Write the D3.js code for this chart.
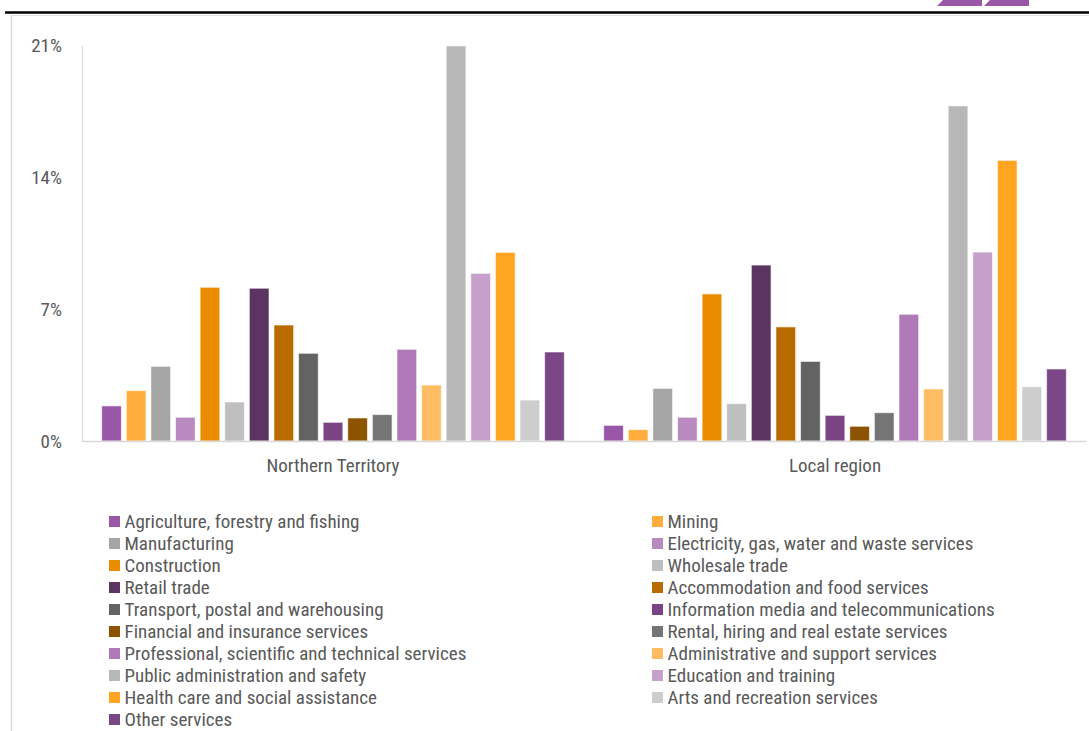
<!DOCTYPE html>
<html>
<head>
<meta charset="utf-8">
<script src="https://cdn.jsdelivr.net/npm/d3@7"></script>
<style>
  html, body { margin: 0; padding: 0; background: #fff; }
  svg text { font-family: "Roboto Condensed", "Arial Narrow", sans-serif; fill: #595959; }
</style>
</head>
<body>
<svg id="chart" width="1089" height="731"></svg>
<script>
var regions = ["Northern Territory", "Local region"];

var industries = [
    "Agriculture, forestry and fishing",
    "Mining",
    "Manufacturing",
    "Electricity, gas, water and waste services",
    "Construction",
    "Wholesale trade",
    "Retail trade",
    "Accommodation and food services",
    "Transport, postal and warehousing",
    "Information media and telecommunications",
    "Financial and insurance services",
    "Rental, hiring and real estate services",
    "Professional, scientific and technical services",
    "Administrative and support services",
    "Public administration and safety",
    "Education and training",
    "Health care and social assistance",
    "Arts and recreation services",
    "Other services"
];

var colours = [
    "#9b57a7", "#ffad3c", "#a5a5a5", "#b88ac0", "#ea8b00", "#bfbfbf",
    "#5c3461", "#ba6b00", "#636363", "#7a4484", "#8c5300", "#757575",
    "#af79b7", "#ffbd63", "#b7b7b7", "#c6a0cb", "#ffa521", "#cdcdcd", "#7a4686"
];

// share of employment, %
var ntValues = [1.86, 2.67, 3.96, 1.26, 8.15, 2.07, 8.10, 6.15, 4.65, 0.99,
    1.22, 1.40, 4.86, 2.97, 20.95, 8.89, 10.0, 2.17, 4.72];
var localValues = [0.83, 0.60, 2.79, 1.26, 7.80, 1.98, 9.33, 6.05, 4.22, 1.36,
    0.78, 1.50, 6.72, 2.76, 17.77, 10.02, 14.88, 2.88, 3.82];

var yTicks = [0, 7, 14, 21];

document.addEventListener('DOMContentLoaded', main);

function main() {
    var svg = d3.select("#chart");

    // frame bits from the page the chart sits on
    svg.append("line")
        .attr("x1", 5).attr("x2", 1089)
        .attr("y1", 12.5).attr("y2", 12.5)
        .attr("stroke", "#000").attr("stroke-width", 2.5);
    svg.append("line")
        .attr("x1", 12).attr("x2", 1089)
        .attr("y1", 15.5).attr("y2", 15.5)
        .attr("stroke", "#e3e3e3").attr("stroke-width", 1);
    svg.append("line")
        .attr("x1", 11.5).attr("x2", 11.5)
        .attr("y1", 15).attr("y2", 731)
        .attr("stroke", "#dcdcdc").attr("stroke-width", 1.5);
    svg.append("polygon")
        .attr("points", "943,0 982,0 982,6 937,6")
        .attr("fill", "#9b57a7");
    svg.append("polygon")
        .attr("points", "990,0 1029,0 1029,6 984,6")
        .attr("fill", "#9b57a7");

    var y = d3.scaleLinear()
        .domain([0, 21])
        .range([441, 45]);

    var x0 = d3.scaleBand()
        .domain(regions)
        .range([82, 1086]);

    var x1 = d3.scaleBand()
        .domain(d3.range(industries.length))
        .range([0, x0.bandwidth()])
        .paddingInner(0.2)
        .paddingOuter(0.8);

    var series = [ntValues, localValues];

    // y axis
    var yAxis = svg.append("g")
        .attr("transform", "translate(82,0)")
        .call(d3.axisLeft(y)
            .tickValues(yTicks)
            .tickSize(0)
            .tickPadding(20)
            .tickFormat(function (d) { return d + "%"; }));
    yAxis.select(".domain").attr("stroke", "#d9d9d9");
    yAxis.selectAll("text")
        .attr("font-size", 19)
        .attr("fill", "#595959")
        .style("font-family", null);

    // bars
    var groups = svg.selectAll(".region")
        .data(regions)
        .enter().append("g")
        .attr("class", "region")
        .attr("transform", function (d) {
            return "translate(" + x0(d) + ",0)";
        });

    groups.selectAll("rect")
        .data(function (d, i) {
            return series[i].map(function (v, j) {
                return { idx: j, value: v };
            });
        })
        .enter().append("rect")
        .attr("x", function (d) { return x1(d.idx); })
        .attr("y", function (d) { return y(d.value); })
        .attr("width", x1.bandwidth())
        .attr("height", function (d) { return y(0) - y(d.value); })
        .attr("fill", function (d) { return colours[d.idx]; })
        .attr("stroke", "#fff")
        .attr("stroke-opacity", 0.6)
        .attr("stroke-width", 1);

    // x axis
    var xAxis = svg.append("g")
        .attr("transform", "translate(0,441)")
        .call(d3.axisBottom(x0).tickSize(0).tickPadding(18));
    xAxis.select(".domain").attr("stroke", "#d9d9d9").attr("stroke-width", 1.5);
    xAxis.selectAll("text")
        .attr("font-size", 19)
        .attr("fill", "#595959");

    // legend, two columns filled row by row
    var legend = svg.append("g");
    var item = legend.selectAll(".item")
        .data(industries)
        .enter().append("g")
        .attr("class", "item")
        .attr("transform", function (d, i) {
            var col = i % 2;
            var row = Math.floor(i / 2);
            return "translate(" + (col === 0 ? 109 : 652) + "," + (516 + row * 22) + ")";
        });
    item.append("rect")
        .attr("width", 11)
        .attr("height", 11)
        .attr("fill", function (d, i) { return colours[i]; });
    item.append("text")
        .attr("x", 15.5)
        .attr("y", 5.5)
        .attr("dy", "0.35em")
        .attr("font-size", 19)
        .text(function (d) { return d; });
}
</script>
</body>
</html>
